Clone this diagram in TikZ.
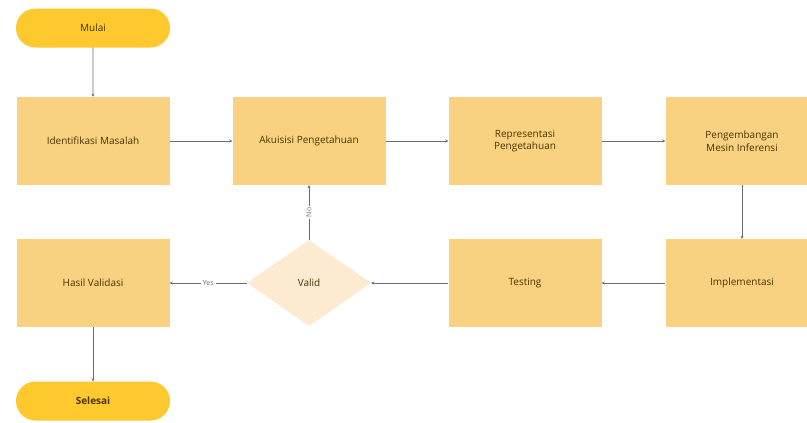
\documentclass[tikz,border=0pt]{standalone}
\usepackage{fontspec}
\setmainfont{Open Sans}
\usetikzlibrary{shapes.geometric,shapes.misc,arrows.meta}

\definecolor{pillyellow}{HTML}{FDC92E}
\definecolor{boxorange}{HTML}{F9D281}
\definecolor{diamondcream}{HTML}{FDEBD1}
\definecolor{textbrown}{HTML}{4A3300}
\definecolor{linegray}{HTML}{6E6E6E}

\tikzset{
  terminal/.style={rounded rectangle, fill=pillyellow, minimum width=154pt, minimum height=39pt, inner xsep=0pt, text width=120pt, align=center, font=\fontsize{10}{12}\selectfont, text=textbrown},
  processbox/.style={rectangle, fill=boxorange, minimum width=153pt, minimum height=88pt, align=center, font=\fontsize{10}{12.5}\selectfont, text=textbrown},
  decision/.style={diamond, fill=diamondcream, minimum width=124pt, minimum height=86pt, inner sep=0pt, font=\fontsize{10}{12}\selectfont, text=textbrown},
  flow/.style={draw=linegray, line width=0.7pt, -{Stealth[length=3pt,width=3pt]}},
  flowlabel/.style={fill=white, inner sep=2pt, font=\fontsize{7}{8}\selectfont, text=linegray}
}

\begin{document}
\begin{tikzpicture}[x=1pt, y=-1pt]
        % Picture frame, same size as the reference
        \useasboundingbox (0,0) rectangle (807,423);
        \clip (0,0) rectangle (807,423);
        \fill[white] (0,0) rectangle (807,423);

        % Columns and rows
        \def\colA{93}
        \def\colB{309}
        \def\colC{525}
        \def\colD{742}
        \def\rowA{141}
        \def\rowB{283}

        % Start and end
        \node[terminal] (mulai) at (\colA,28) {Mulai};
        \node[terminal, font=\bfseries\fontsize{10}{12}\selectfont] (selesai) at (\colA,401) {Selesai};

        % Upper row
        \node[processbox] (identifikasi) at (\colA,\rowA) {Identifikasi Masalah};
        \node[processbox] (akuisisi) at (\colB,\rowA) {Akuisisi Pengetahuan};
        \node[processbox] (representasi) at (\colC,\rowA) {Representasi\\Pengetahuan};
        \node[processbox] (pengembangan) at (\colD,\rowA) {Pengembangan\\Mesin Inferensi};

        % Lower row
        \node[processbox] (hasil) at (\colA,\rowB) {Hasil Validasi};
        \node[decision] (valid) at (\colB,\rowB) {Valid};
        \node[processbox] (testing) at (\colC,\rowB) {Testing};
        \node[processbox] (implementasi) at (\colD,\rowB) {Implementasi};

        % Connectors
        \draw[flow] (mulai) -- (identifikasi);
        \draw[flow] (identifikasi) -- (akuisisi);
        \draw[flow] (akuisisi) -- (representasi);
        \draw[flow] (representasi) -- (pengembangan);
        \draw[flow] (pengembangan) -- (implementasi);
        \draw[flow] (implementasi) -- (testing);
        \draw[flow] (testing) -- (valid);
        \draw[flow] (valid) -- node[flowlabel] {Yes} (hasil);
        \draw[flow] (valid) -- node[flowlabel, rotate=90] {No} (akuisisi);
        \draw[flow] (hasil) -- (selesai);
      \end{tikzpicture}
\end{document}
